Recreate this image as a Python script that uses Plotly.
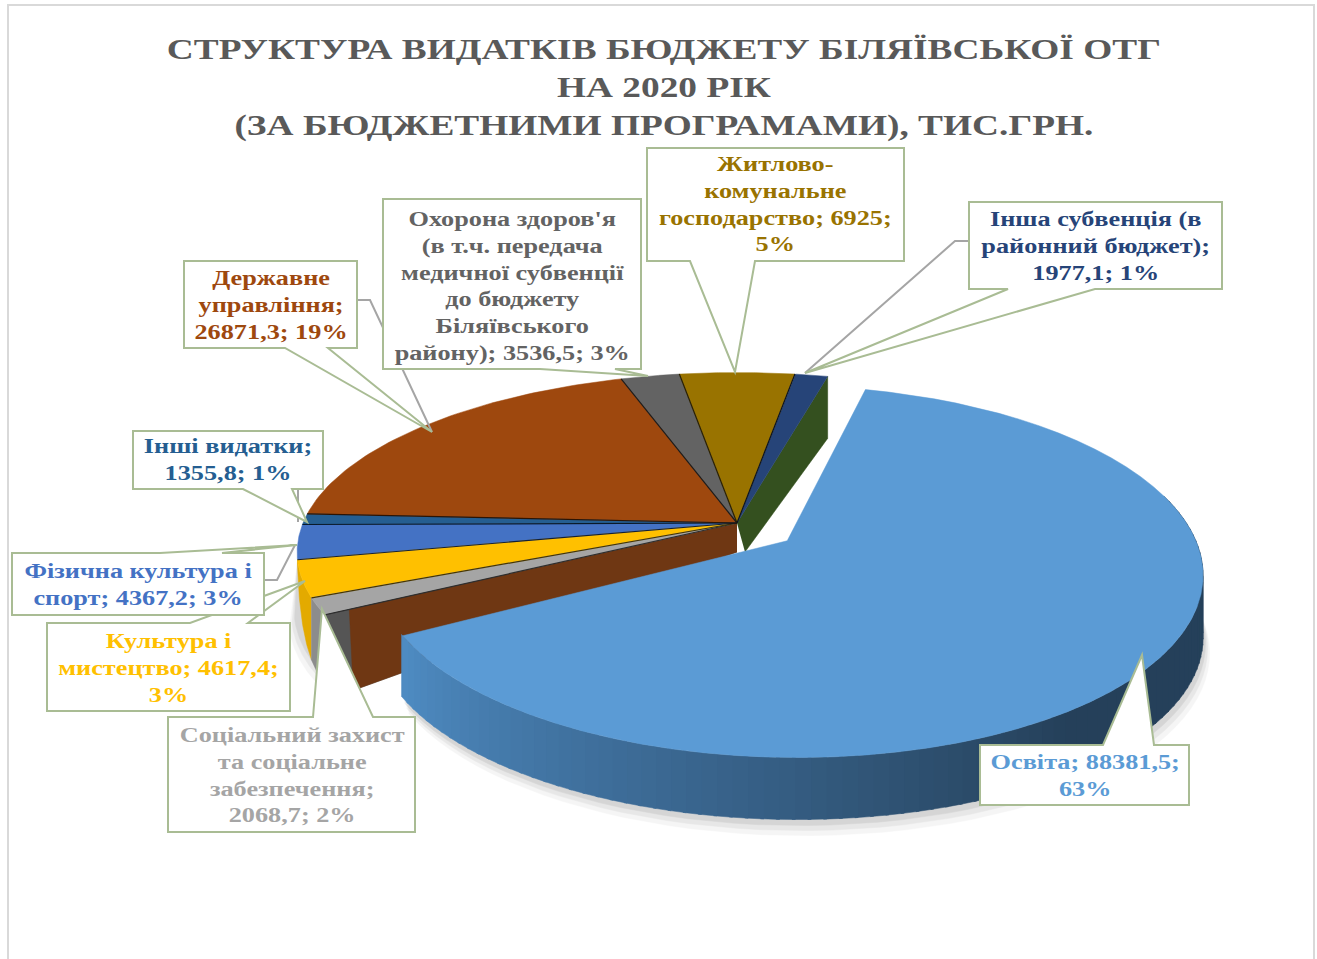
import numpy as np
import plotly.graph_objects as go

# ---------- data ----------
categories = ["Освіта", "Соціальний захист", "Культура і мистецтво", "Фізична культура і спорт",
              "Інші видатки", "Державне управління", "Охорона здоров'я", "Житлово-комунальне господарство",
              "Інша субвенція"]
values = [88381.5, 2068.7, 4617.4, 4367.2, 1355.8, 26871.3, 3536.5, 6925.0, 1977.1]
label_lines = [
    ["Освіта; 88381,5;", "63%"],
    ["Соціальний захист", "та соціальне", "забезпечення;", "2068,7; 2%"],
    ["Культура і", "мистецтво; 4617,4;", "3%"],
    ["Фізична культура і", "спорт; 4367,2; 3%"],
    ["Інші видатки;", "1355,8; 1%"],
    ["Державне", "управління;", "26871,3; 19%"],
    ["Охорона здоров'я", "(в т.ч. передача", "медичної субвенції", "до бюджету", "Біляївського", "району); 3536,5; 3%"],
    ["Житлово-", "комунальне", "господарство; 6925;", "5%"],
    ["Інша субвенція (в", "районний бюджет);", "1977,1; 1%"],
]
title_lines = ["СТРУКТУРА ВИДАТКІВ БЮДЖЕТУ БІЛЯЇВСЬКОЇ ОТГ", "НА 2020 РІК",
               "(ЗА БЮДЖЕТНИМИ ПРОГРАМАМИ), ТИС.ГРН."]

# ---------- styles ----------
top_colors = ["#5B9BD5", "#A5A5A5", "#FFC000", "#4472C4", "#255E91", "#9E480E", "#636363", "#997300", "#264478"]
rim_colors = [None, "#8C8C8C", "#E3AA00", "#3A62AA", "#1F4E79", "#7A380B", "#4A4A4A", "#6F5500", "#1C3359"]
text_colors = ["#5B9BD5", "#A5A5A5", "#FFC000", "#4472C4", "#255E91", "#9E480E", "#636363", "#997300", "#264478"]
BORDER = "#A9BC94"
FONT = "Liberation Serif"

# callout geometry per category: box(x0,y0,x1,y1), pointer base x0,x1 on bottom or top edge, tip, text nudge
callouts = [
    dict(box=(980, 745, 1189, 805), side="top", base=(1103, 1154), tip=(1142, 655), dy=0),
    dict(box=(168, 717, 415, 832), side="top", base=(313, 373), tip=(322, 609), dy=0),
    dict(box=(47, 623, 290, 711), side="top", base=(190, 248), tip=(305, 581), dy=1),
    dict(box=(12, 553, 264, 615), side="top", base=(160, 222), tip=(297, 545), dy=1),
    dict(box=(133, 431, 323, 489), side="bottom", base=(243, 292), tip=(307, 522), dy=-1),
    dict(box=(184, 261, 357, 348), side="bottom", base=(285, 328), tip=(432, 432), dy=0),
    dict(box=(383, 199, 641, 369), side="bottom", base=(540, 615), tip=(648, 376), dy=2),
    dict(box=(647, 148, 904, 261), side="bottom", base=(690, 755), tip=(735, 372), dy=-1),
    dict(box=(969, 202, 1222, 289), side="bottom", base=(1008, 1095), tip=(805, 373), dy=0),
]
leaders = [
    [(357, 300), (370, 300), (432, 432)],
    [(969, 241), (955, 241), (805, 373)],
    [(298, 489), (298, 522)],
    [(264, 580), (277, 580), (295, 545)],
]
draw_order = [0, 1, 2, 3, 4, 6, 5, 7, 8]

# ---------- projection ----------
CX, CY, RX, RY, P = 737.0, 523.0, 434.0, 175.0, 0.163
EDU_RX, EXPLODE, START = 402.0, (0.155, 0.164), 14.0


def proj(X, Y, rx=RX, z=0.0):
    w = 1.0 / (1.0 + P * Y)
    return CX + rx * X * w, CY - RY * Y * w + z


def rim(a0, a1, off=(0.0, 0.0), rx=RX, z=0.0, n=60):
    t = np.radians(np.linspace(a0, a1, n))
    return proj(np.sin(t) + off[0], np.cos(t) + off[1], rx, z)


angles = np.cumsum([0.0] + [v / sum(values) * 360.0 for v in values]) + START


def hexmix(c0, c1, f):
    a = [int(c0[i:i + 2], 16) for i in (1, 3, 5)]
    b = [int(c1[i:i + 2], 16) for i in (1, 3, 5)]
    return "#%02x%02x%02x" % tuple(round(p + (q - p) * f) for p, q in zip(a, b))


fig = go.Figure()


def poly(x, y, color, name, opacity=1.0):
    fig.add_trace(go.Scatter(x=list(x), y=list(y), mode="lines", fill="toself", fillcolor=color,
                             line=dict(color=color, width=0.5), opacity=opacity,
                             name=name, hoverinfo="skip", showlegend=False))


def edge(x, y, color, name):
    fig.add_trace(go.Scatter(x=list(x), y=list(y), mode="lines", line=dict(color=color, width=1.2),
                             name=name, hoverinfo="skip", showlegend=False))


mid = np.radians((angles[0] + angles[1]) / 2)
off = (np.sin(mid) * EXPLODE[0], np.cos(mid) * EXPLODE[1])
EDU_H = 62.0

# soft shadow under the exploded slice and the left part
for s, op in [(16, 0.035), (11, 0.05), (6, 0.07)]:
    xb, yb = rim(75, angles[1], off, EDU_RX, EDU_H + s)
    xt, yt = rim(angles[1], 75, off, EDU_RX, 0)
    poly(np.r_[xb + s * 0.4, xt], np.r_[yb, yt], "#000000", "shadow", opacity=op)
    xb, yb = rim(angles[1], 258, z=52 + s)
    xt, yt = rim(258, angles[1])
    poly(np.r_[xb - s * 0.5, xt], np.r_[yb, yt], "#000000", "shadow", opacity=op)

# cut faces of the remaining pie
hc, hr = 29.0, 68.0
x0, y0 = proj(0.0, 0.0)
ex, ey = proj(np.sin(np.radians(angles[1])), np.cos(np.radians(angles[1])))
r = 0.94
mx, my = x0 + (ex - x0) * r, y0 + (ey - y0) * r
poly([x0, ex, ex, mx + 4, x0], [y0, ey, ey + hr, my + 81, y0 + hc], "#555555", "Стінка")
poly([x0, mx, mx + 4, x0], [y0, my, my + 81, y0 + hc], "#6F3713", "Стінка")
gx, gy = proj(np.sin(np.radians(START)), np.cos(np.radians(START)))
poly([x0, gx, gx, x0 + 8], [y0, gy, gy + 62, y0 + hc], "#34501F", "Стінка")

# outer rims of the visible front-left slices (the wall fades out towards the silhouette)
for i in (2, 1):
    a0, a1 = angles[i], angles[i + 1]
    xt, yt = rim(a0, a1)
    zs = hr * (1.0 - ((np.linspace(a1, a0, 60) - angles[1]) / 18.0) ** 2)
    xb, yb = rim(a1, a0, z=zs)
    poly(np.r_[xt, xb], np.r_[yt, yb], rim_colors[i], categories[i] + " (бік)")

# top surfaces of the remaining slices, with dark separating edges
for i in range(len(values) - 1, 0, -1):
    xr, yr = rim(angles[i], angles[i + 1])
    poly(np.r_[x0, xr, x0], np.r_[y0, yr, y0], top_colors[i], categories[i])
for i in range(1, len(values)):
    xr, yr = rim(angles[i], angles[i], n=1)
    edge([x0, xr[0]], [y0, yr[0]], hexmix(top_colors[i], "#000000", 0.72), categories[i] + " (край)")

# exploded slice: wall with gradient, then top
seg = 90
edges = np.linspace(75, angles[1], seg + 1)
for k in range(seg):
    f = k / (seg - 1)
    col = "#25405A" if f < 0.42 else hexmix("#25405A", "#4E8BC2", (f - 0.42) / 0.58)
    xt, yt = rim(edges[k], edges[k + 1] + 0.4, off, EDU_RX, 0, n=3)
    xb, yb = rim(edges[k + 1] + 0.4, edges[k], off, EDU_RX, EDU_H, n=3)
    poly(np.r_[xt, xb], np.r_[yt, yb], col, categories[0] + " (бік)")
xr, yr = rim(angles[0], angles[1], off, EDU_RX)
ax, ay = proj(off[0], off[1], EDU_RX)
poly(np.r_[ax, xr, ax], np.r_[ay, yr, ay], top_colors[0], categories[0])

# ---------- callouts ----------
shapes = [dict(type="rect", xref="x", yref="y", x0=8, y0=5, x1=1314, y1=962, layer="below",
               line=dict(color="#D9D9D9", width=2), fillcolor="white")]
for pts in leaders:
    path = "M " + " L ".join(f"{a},{b}" for a, b in pts)
    shapes.append(dict(type="path", xref="x", yref="y", path=path, layer="above",
                       line=dict(color="#A5A5A5", width=2)))
for i in draw_order:
    c = callouts[i]
    a, b, d, e = c["box"]
    u, v = c["base"]
    t = c["tip"]
    if c["side"] == "bottom":
        pts = [(a, b), (d, b), (d, e), (v, e), t, (u, e), (a, e)]
    else:
        pts = [(a, b), (u, b), t, (v, b), (d, b), (d, e), (a, e)]
    path = "M " + " L ".join(f"{p},{q}" for p, q in pts) + " Z"
    shapes.append(dict(type="path", xref="x", yref="y", path=path, layer="above", fillcolor="white",
                       line=dict(color=BORDER, width=2)))

annotations = []
for i, lines in enumerate(label_lines):
    a, b, d, e = callouts[i]["box"]
    annotations.append(dict(xref="x", yref="y", x=(a + d) / 2, y=(b + e) / 2 + callouts[i]["dy"],
                            showarrow=False, align="center",
                            text="<b>" + "<br>".join(lines) + "</b>",
                            font=dict(family=FONT, size=20.6, color=text_colors[i])))
annotations.append(dict(xref="x", yref="y", x=664, y=87, showarrow=False, align="center",
                        text="<b>" + "<br>".join(title_lines) + "</b>",
                        font=dict(family=FONT, size=29.3, color="#595959")))

fig.update_layout(width=1317, height=959, margin=dict(l=0, r=0, t=0, b=0), paper_bgcolor="white",
                  plot_bgcolor="white", showlegend=False, shapes=shapes, annotations=annotations,
                  xaxis=dict(range=[0, 1317], visible=False, fixedrange=True),
                  yaxis=dict(range=[959, 0], visible=False, fixedrange=True))

# the reference text is stretched horizontally: widen every text block about its own centre
post = """
document.body.style.margin='0';document.body.style.overflow='hidden';
var st=document.createElement('style');
st.textContent='.annotation-text{transform-box:fill-box;transform-origin:center;transform:scaleX(1.275);}';
document.head.appendChild(st);
"""
fig.write_html("out.html", post_script=post, config=dict(displayModeBar=False))
